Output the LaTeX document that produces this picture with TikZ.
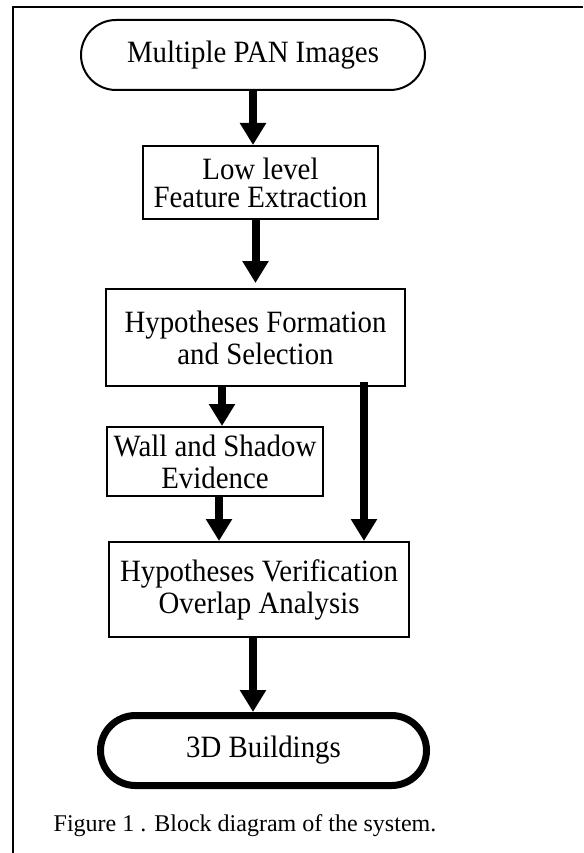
\documentclass[tikz,border=0pt]{standalone}
\usepackage{fontspec}
\setmainfont{Liberation Serif}
\newfontfamily\boxfont{Liberation Serif}[FakeStretch=0.93]
\usetikzlibrary{arrows.meta}

\begin{document}
\begin{tikzpicture}[x=1pt, y=-1pt,
		block/.style={draw, line width=2pt, align=center, inner sep=2pt,
			font=\boxfont\fontsize{31}{32}\selectfont},
		pill/.style={block, rounded corners=35pt},
		flow/.style={line width=8pt, -{Triangle[width=25pt, length=22pt]}}]
		\useasboundingbox (0, 0) rectangle (583, 853);
		\draw[line width=1.5pt] (583, 7) -- (13, 7) -- (13, 853);

		\node[pill, minimum width=344, minimum height=70] (pan) at (253, 55) {Multiple PAN Images};
		\node[block, minimum width=235, minimum height=73] (lowlevel) at (260.5, 182.5) {Low level\\[-4pt] Feature Extraction};
		\node[block, minimum width=299, minimum height=97] (formation) at (255.5, 337.5) {Hypotheses Formation\\ and Selection};
		\node[block, minimum width=216, minimum height=69] (evidence) at (215, 461.5) {Wall and Shadow\\ Evidence};
		\node[block, minimum width=300, minimum height=95] (verify) at (259, 589.5) {Hypotheses Verification\\ Overlap Analysis};
		\node[pill, line width=7pt, minimum width=326, minimum height=70] (buildings) at (263.5, 750.5) {3D Buildings};
		\node[font=\fontsize{24}{28}\selectfont] (caption) at (245, 826) {Figure 1 . Block diagram of the system.};

		\draw[flow] (pan.south) -- (pan.south |- lowlevel.north);
		\draw[flow, shorten >=5pt] (lowlevel.south -| formation.north) -- (formation.north);
		\draw[flow] ([xshift=7pt]evidence.north |- formation.south) -- ([xshift=7pt]evidence.north);
		\draw[flow] ([xshift=4pt]evidence.south) -- ([xshift=4pt]evidence.south |- verify.north);
		\draw[flow] ([xshift=108.5pt, yshift=5pt]formation.south) -- ([xshift=108.5pt]formation.south |- verify.north);
		\draw[flow] ([xshift=-6pt]verify.south) -- ([xshift=-6pt]verify.south |- buildings.north);
	\end{tikzpicture}
\end{document}
